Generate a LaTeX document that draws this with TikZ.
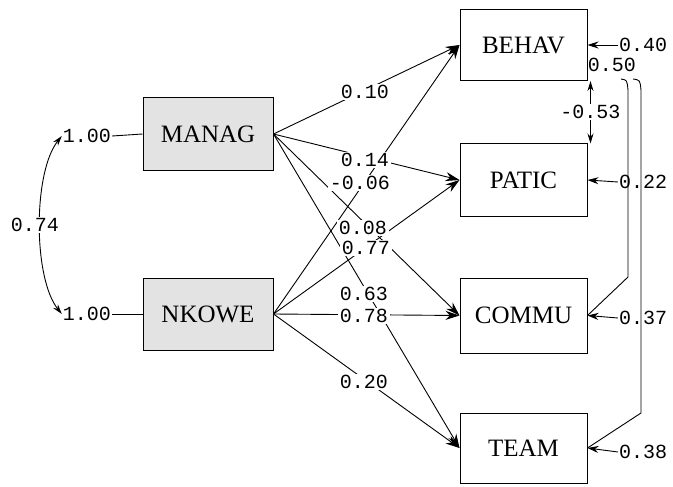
\documentclass[tikz,border=0pt]{standalone}
\usepackage{fontspec}
\setmainfont{Liberation Serif}
\newfontfamily\numfont{Liberation Mono}
\usetikzlibrary{arrows.meta}
\begin{document}
\begin{tikzpicture}[x=1pt,y=-1pt,
  var/.style={draw, line width=1pt, minimum width=127pt, minimum height=71pt, inner sep=0pt, font=\fontsize{25}{25}\selectfont},
  exo/.style={var, fill=gray!22, minimum width=130pt, minimum height=72pt},
  num/.style={font=\numfont\fontsize{20}{20}\selectfont, inner sep=1pt},
  coef/.style={num, fill=white, inner sep=1.5pt, text height=13pt, text depth=0pt},
  conn/.style={line width=0.9pt, -{Stealth[length=14pt,width=9pt]}},
  econn/.style={line width=0.9pt, -{Stealth[length=11pt,width=7pt]}},
  cov/.style={line width=0.9pt},
  dcov/.style={line width=0.9pt, {Stealth[length=10pt,width=6pt]}-{Stealth[length=10pt,width=6pt]}}
]
\useasboundingbox (0,0) rectangle (673,487);

% boxes
\node[exo] (MANAG) at (208,134) {MANAG};
\node[exo] (NKOWE) at (208,314) {NKOWE};
\node[var] (BEHAV) at (523.5,45) {BEHAV};
\node[var, minimum height=72pt] (PATIC) at (523.5,180) {PATIC};
\node[var, minimum height=75pt] (COMMU) at (523.5,315.5) {COMMU};
\node[var, minimum height=70pt] (TEAM) at (523.5,448) {TEAM};

% variances of exogenous variables
\node[num] (v1) at (87,136) {1.00};
\node[num] (v2) at (87,314) {1.00};
\draw[cov] (v1.east) -- (MANAG.west);
\draw[cov] (v2.east) -- (NKOWE.west);
\draw[dcov] (v1.west) .. controls (33,172) and (33,278) .. (v2.west);
\node[coef] (l74) at (35,225) {0.74};

% structural paths (lines first, labels afterwards)
\draw[conn] (MANAG.east) -- (BEHAV.west);
\draw[conn] (MANAG.east) -- (PATIC.west);
\draw[conn] (MANAG.east) -- (COMMU.west);
\draw[conn] (MANAG.east) -- (TEAM.west);
\draw[conn] (NKOWE.east) -- (BEHAV.west);
\draw[conn] (NKOWE.east) -- (PATIC.west);
\draw[conn] (NKOWE.east) -- (COMMU.west);
\draw[conn] (NKOWE.east) -- (TEAM.west);

\node[coef] (l1) at (365,92) {0.10};
\node[coef] (l2) at (365,160) {0.14};
\node[coef] (l5) at (360,183) {-0.06};
\node[coef] (l3) at (363,228) {0.08};
\node[coef] (l6) at (366,248) {0.77};
\node[coef] (l4) at (364,294) {0.63};
\node[coef] (l7) at (364,316) {0.78};
\node[coef] (l8) at (364,382) {0.20};

% error terms
\node[num, anchor=west] (e1) at (618,45) {0.40};
\node[num, anchor=west] (e2) at (618,182) {0.22};
\node[num, anchor=west] (e3) at (618,318) {0.37};
\node[num, anchor=west] (e4) at (618,452) {0.38};
\draw[econn] (e1.west) -- (BEHAV.east);
\draw[econn] (e2.west) -- (PATIC.east);
\draw[econn] (e3.west) -- (COMMU.east);
\draw[econn] (e4.west) -- (TEAM.east);

% error covariances
\draw[dcov] ([xshift=3pt]BEHAV.south east) -- coordinate[midway] (m53) ([xshift=3pt]PATIC.north east);
\node[coef] at (m53) {-0.53};

\node[num] (c50) at (612,65) {0.50};
\coordinate (L1s) at (621,79);
\coordinate (L1k) at (628,277);
\coordinate (L2s) at (633,79);
\coordinate (L2k) at (641,413);
\draw[cov] (L1s) .. controls (627,80) .. (628,90) -- (L1k) -- (COMMU.east);
\draw[cov] (L2s) .. controls (640,80) .. (641,90) -- (L2k) -- (TEAM.east);
\end{tikzpicture}
\end{document}
